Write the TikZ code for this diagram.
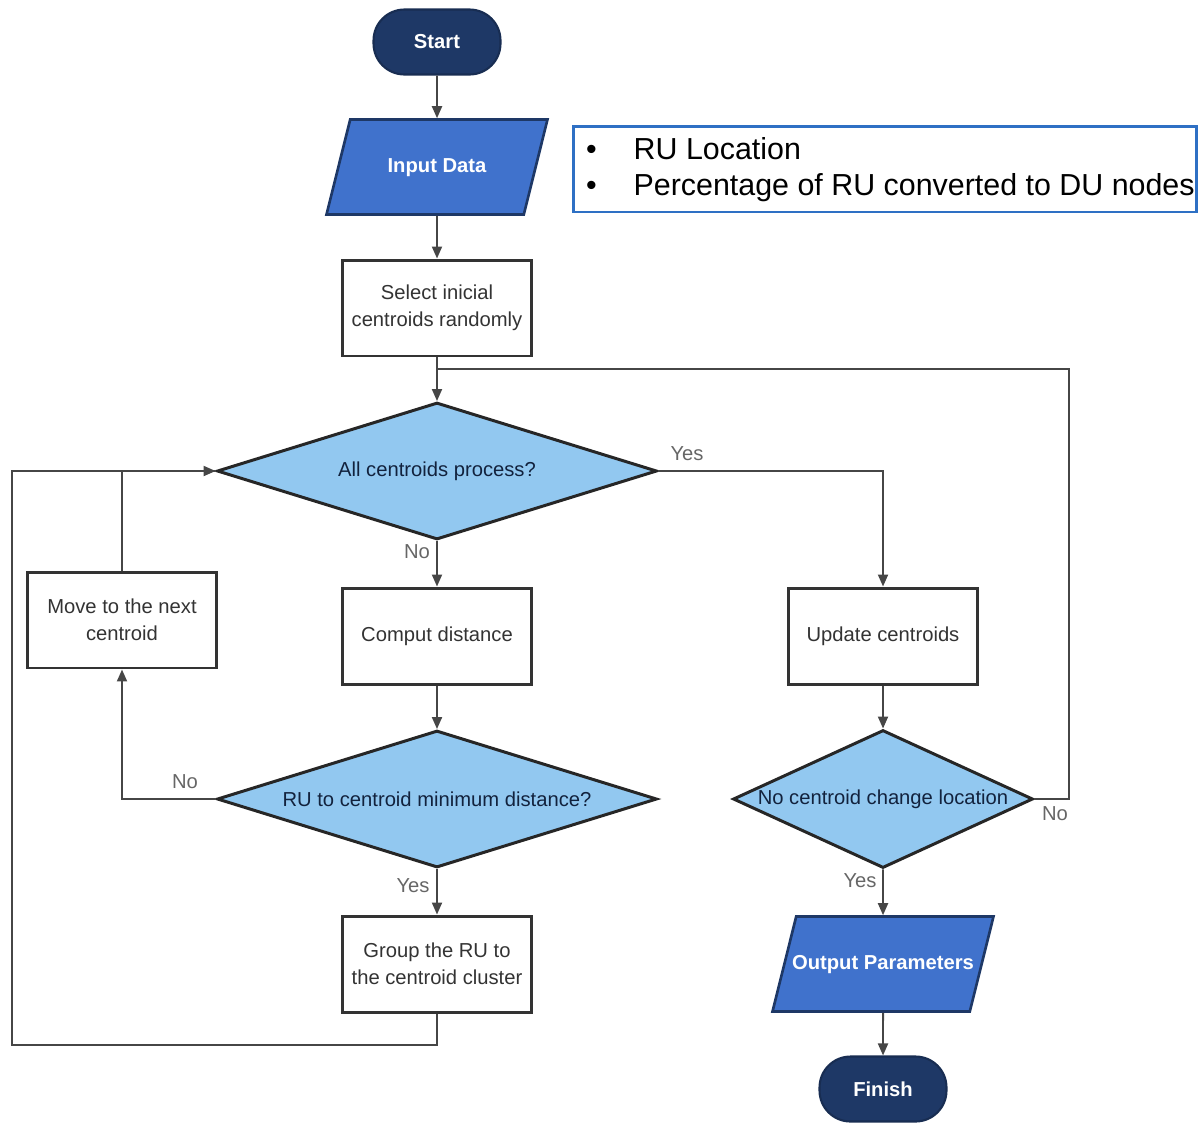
\documentclass[tikz,border=0pt]{standalone}
\usepackage{fontspec}
\setmainfont{Liberation Sans}
\usetikzlibrary{shapes.geometric,arrows.meta}

\definecolor{navy}{RGB}{30,56,102}
\definecolor{iodata}{RGB}{64,114,204}
\definecolor{decfill}{RGB}{146,200,240}
\definecolor{edgegray}{RGB}{70,70,70}
\definecolor{infoblue}{RGB}{46,112,196}

\begin{document}
\begin{tikzpicture}[
    x=0.02cm, y=-0.02cm,
    every node/.style={font=\fontsize{11.5}{15.5}\selectfont},
    >={Triangle[length=2.4mm,width=2mm]},
    terminal/.style={rectangle, rounded corners=0.62cm, fill=navy, draw=navy!80!black,
        line width=1.2pt, text=white, font=\fontsize{11.5}{15.5}\selectfont\bfseries,
        minimum width=2.54cm, minimum height=1.3cm},
    io/.style={trapezium, trapezium left angle=76, trapezium right angle=104,
        trapezium stretches body, fill=iodata, draw=navy, line width=1.5pt, text=white,
        font=\fontsize{11.5}{15.5}\selectfont\bfseries, text height=8.5pt, text depth=2.5pt,
        inner ysep=0.756cm, inner xsep=-0.2cm, minimum width=4.42cm},
    process/.style={rectangle, draw=black!80, line width=1.7pt, fill=white, text=black!80,
        align=center, minimum width=3.78cm, minimum height=1.92cm},
    decision/.style={diamond, aspect=3.2, draw=black!85, line width=1.7pt, fill=decfill,
        text=navy!60!black, inner sep=0pt, minimum width=8.8cm, minimum height=2.74cm},
    infobox/.style={rectangle, draw=infoblue, line width=1.7pt, minimum width=12.48cm, minimum height=1.72cm},
    flow/.style={edgegray, line width=1.1pt},
    answer/.style={text=black!60},
]
\useasboundingbox (0,0) rectangle (1202,1123);

% === main column ===
\node[terminal] (start) at (437,42) {Start};
\node[io] (input) at (437,167) {Input Data};
\node[process] (select) at (437,308) {Select inicial\\centroids randomly};
\node[decision] (dec1) at (437,471) {All centroids process?};
\node[process] (comp) at (437,636) {Comput distance};
\node[decision] (dec2) at (437,799) {RU to centroid minimum distance?};
\node[process] (grp) at (437,964) {Group the RU to\\the centroid cluster};

% === left column ===
\node[process] (move) at (122,620) {Move to the next\\centroid};

% === right column ===
\node[process] (upd) at (883,636) {Update centroids};
\node[decision, aspect=2.17, minimum width=6cm, minimum height=2.76cm,
    label={[text=navy!60!black]center:No centroid change location}] (chg) at (883,799) {};
\node[io] (out) at (883,964) {Output Parameters};
\node[terminal] (fin) at (883,1089) {Finish};

% === input description ===
\node[infobox] (info) at (885,169) {};
\node[anchor=west, align=left, font=\fontsize{17.3}{20.4}\selectfont] (infotext) at (580,170)
    {\makebox[0.95cm][l]{\textbullet}RU Location\\
     \makebox[0.95cm][l]{\textbullet}Percentage of RU converted to DU nodes};

% === loop corners ===
\coordinate (loopL) at (12,1045);
\coordinate (loopR) at (1069,369);
\coordinate (join1) at (437,369);

% === connectors ===
\draw[flow,->] (start) -- (input);
\draw[flow,->] (input) -- (select);
\draw[flow,->] (select) -- (dec1);
\draw[flow,->] (dec1) -- (comp);
\draw[flow,->] (comp) -- (dec2);
\draw[flow,->] (dec2) -- (grp);
\draw[flow,->] (dec1.east) -| (upd.north);
\draw[flow,->] (dec2.west) -| (move.south);
\draw[flow,->] (move.north) |- (dec1.west);
\draw[flow] (grp.south) |- (loopL) |- (dec1.west);
\draw[flow,->] (upd) -- (chg);
\draw[flow,->] (chg) -- (out);
\draw[flow,->] (out) -- (fin);
\draw[flow] (chg.east) -| (loopR) -- (join1);

% === answers ===
\node[answer] (yes1) at (687,454) {Yes};
\node[answer] (no1) at (417,552) {No};
\node[answer] (no2) at (185,782) {No};
\node[answer] (yes2) at (413,886) {Yes};
\node[answer] (no3) at (1055,814) {No};
\node[answer] (yes3) at (860,881) {Yes};

\end{tikzpicture}
\end{document}
